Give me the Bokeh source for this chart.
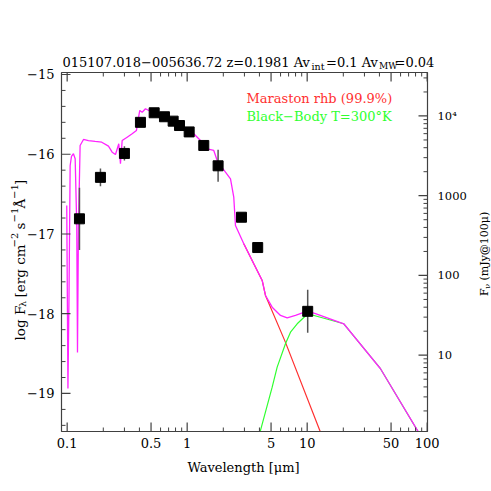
import numpy as np
from bokeh.plotting import figure
from bokeh.models import Range1d, Label, ColumnDataSource
from bokeh.core.properties import value
from bokeh.embed import file_html
from bokeh.resources import INLINE

# ---------------- data ----------------
# observed photometry: wavelength [um], log F_lambda, error (dex)
obs_lam = [0.1266, 0.1894, 0.300, 0.408, 0.531, 0.647, 0.764, 0.863, 1.039,
           1.375, 1.81, 2.835, 3.87, 10.1]
obs_logf = [-16.81, -16.29, -15.99, -15.60, -15.48, -15.53, -15.585, -15.64,
            -15.72, -15.89, -16.145, -16.79, -17.17, -17.97]
obs_err = [0.39, 0.11, 0.09, 0.0, 0.0, 0.0, 0.0, 0.0, 0.0, 0.0, 0.2, 0.0, 0.0, 0.27]

# total model (magenta)
tot_lam = [0.0992, 0.1015, 0.1035, 0.1059, 0.1086, 0.1128, 0.1166, 0.1202,
           0.1219, 0.1242, 0.1282, 0.1368, 0.1504, 0.1711, 0.1942, 0.2209,
           0.2371, 0.2527, 0.2692, 0.2780, 0.2873, 0.3162, 0.3479, 0.3779,
           0.3874, 0.4027, 0.4217, 0.4493, 0.4786, 0.5268, 0.5990, 0.6813,
           0.7729, 0.8794, 1.0, 1.135, 1.291, 1.468, 1.666, 1.778, 1.894,
           2.085, 2.296, 2.445, 2.526, 2.963, 3.589, 4.217, 4.493, 5.109,
           5.991, 6.813, 7.989, 10.0, 11.72, 20.18, 40.83, 79.89, 100.0]
tot_logf = [-16.643, -18.937, -17.834, -16.141, -16.028, -15.994, -16.057,
            -16.893, -18.486, -16.893, -15.890, -15.815, -15.828, -15.840,
            -15.849, -15.899, -15.974, -16.003, -15.869, -16.120, -15.828,
            -15.786, -15.744, -15.702, -15.598, -15.451, -15.473, -15.430,
            -15.451, -15.460, -15.493, -15.543, -15.577, -15.618, -15.702,
            -15.744, -15.828, -15.932, -15.953, -16.078, -16.141, -16.225,
            -16.308, -16.539, -16.893, -17.123, -17.374, -17.583, -17.771,
            -17.918, -18.022, -18.051, -18.022, -17.968, -18.000, -18.126,
            -18.690, -19.423, -19.670]

# stellar (Maraston) model, red, tail only (rest hidden under total)
star_lam = [2.963, 3.589, 4.217, 4.493, 6.556, 12.74, 15.85]
star_logf = [-17.123, -17.374, -17.583, -17.771, -18.350, -19.464, -19.840]

# black body, green
bb_lam = [3.802, 4.083, 5.109, 5.623, 6.592, 7.261, 8.255, 10.12, 20.18,
          40.83, 79.89, 100.0]
bb_logf = [-19.90, -19.464, -18.921, -18.670, -18.377, -18.231, -18.126,
           -18.000, -18.126, -18.690, -19.423, -19.670]

# axes: ticks and labels
x_major = [0.1, 0.5, 1, 5, 10, 50, 100]
x_labels = ["0.1", "0.5", "1", "5", "10", "50", "100"]
x_minor = [0.2, 0.3, 0.4, 0.6, 0.7, 0.8, 0.9, 2, 3, 4, 6, 7, 8, 9,
           20, 30, 40, 60, 70, 80, 90]
y_major = [-19, -18, -17, -16, -15]
y_labels = ["\u221219", "\u221218", "\u221217", "\u221216", "\u221215"]
y_minor = [-19.4, -19.2, -18.8, -18.6, -18.4, -18.2, -17.8, -17.6, -17.4,
           -17.2, -16.8, -16.6, -16.4, -16.2, -15.8, -15.6, -15.4, -15.2]
r_major = [10, 100, 1000, 10000]
r_labels = ["10", "100", "1000", "10\u2074"]
r_minor = [2, 3, 4, 5, 6, 7, 8, 9, 20, 30, 40, 50, 60, 70, 80, 90,
           200, 300, 400, 500, 600, 700, 800, 900,
           2000, 3000, 4000, 5000, 6000, 7000, 8000, 9000, 20000, 30000]
FNU_OFFSET = 19.52   # log(F_nu [mJy] at 100um) - log(F_lambda)

XLO, XHI = 0.0897, 100.6
YLO, YHI = -19.477, -14.975

# ---------------- layout (pixels) ----------------
W = H = 491
BOX_L, BOX_R, BOX_T, BOX_B = 61, 427, 72, 431
FONT = "DejaVu Serif"
AX = "#404040"

ppd = (BOX_R - BOX_L) / (np.log10(XHI) - np.log10(XLO))
x_start = 10 ** (np.log10(XLO) - BOX_L / ppd)
x_end = 10 ** (np.log10(XHI) + (W - BOX_R) / ppd)
ppu = (BOX_B - BOX_T) / (YHI - YLO)
y_start = YLO - (H - BOX_B) / ppu
y_end = YHI + BOX_T / ppu

p = figure(width=W, height=H, x_axis_type="log",
           x_range=Range1d(x_start, x_end), y_range=Range1d(y_start, y_end),
           output_backend="svg", toolbar_location=None,
           min_border=0, min_border_left=0, min_border_right=0,
           min_border_top=0, min_border_bottom=0)
p.axis.visible = False
p.xgrid.visible = False
p.ygrid.visible = False
p.outline_line_color = None
p.background_fill_color = "white"
p.border_fill_color = "white"

# ---------------- curves ----------------
p.line(star_lam, star_logf, line_color="#ff3030", line_width=1.2)
p.line(bb_lam, bb_logf, line_color="#30ff30", line_width=1.2)
p.line(tot_lam, tot_logf, line_color="#ff22ff", line_width=1.3)

src = ColumnDataSource(dict(
    x=obs_lam, y=obs_logf,
    lo=[v - e for v, e in zip(obs_logf, obs_err)],
    hi=[v + e for v, e in zip(obs_logf, obs_err)]))
p.segment(x0="x", x1="x", y0="lo", y1="hi", source=src,
          line_color="#555555", line_width=1.5)
p.scatter(x="x", y="y", source=src, marker="square", size=10,
          fill_color="black", line_color="black")

# white masks outside the plot box (clip the curves to the box)
p.quad(left=[x_start, XHI, XLO, XLO], right=[XLO, x_end, XHI, XHI],
       bottom=[y_start, y_start, y_start, YHI], top=[y_end, y_end, YLO, y_end],
       fill_color="white", line_color=None)

# box
p.quad(left=[XLO], right=[XHI], bottom=[YLO], top=[YHI],
       fill_color=None, line_color=AX, line_width=1.2)


# ticks (inward)
def ticks(xs, ys, ang, length, width):
    p.ray(x=xs, y=ys, length=length, length_units="screen", angle=ang,
          line_color=AX, line_width=width)


half = np.pi / 2
ticks(x_major, [YLO] * len(x_major), half, 9, 1.2)
ticks(x_minor, [YLO] * len(x_minor), half, 4, 1.0)
ticks(x_major, [YHI] * len(x_major), -half, 9, 1.2)
ticks(x_minor, [YHI] * len(x_minor), -half, 4, 1.0)
ticks([XLO] * len(y_major), y_major, 0.0, 9, 1.2)
ticks([XLO] * len(y_minor), y_minor, 0.0, 4, 1.0)
r_major_y = [np.log10(v) - FNU_OFFSET for v in r_major]
r_minor_y = [np.log10(v) - FNU_OFFSET for v in r_minor]
ticks([XHI] * len(r_major), r_major_y, np.pi, 9, 1.2)
ticks([XHI] * len(r_minor), r_minor_y, np.pi, 4, 1.0)

# tick labels
p.text(x=x_major, y=[YLO] * len(x_major), text=x_labels, y_offset=6,
       text_align="center", text_baseline="top",
       text_font=value(FONT), text_font_size=value("13px"), text_color="black")
p.text(x=[XLO] * len(y_major), y=y_major, text=y_labels, x_offset=-7,
       text_align="right", text_baseline="middle",
       text_font=value(FONT), text_font_size=value("13px"), text_color="black")
p.text(x=[XHI] * len(r_major), y=r_major_y, text=r_labels, x_offset=10,
       text_align="left", text_baseline="middle",
       text_font=value(FONT), text_font_size=value("11.5px"), text_color="black")


# ---------------- texts (page pixel positions) ----------------
def lab(text, px, py, size="13px", color="black", angle=0.0, align="left"):
    p.add_layout(Label(x=px, y=H - py, x_units="screen", y_units="screen",
                       text=text, text_font=FONT, text_font_size=size,
                       text_color=color, angle=angle, text_align=align,
                       text_baseline="alphabetic"))


# title
lab("015107.018\u2212005636.72 z=0.1981 Av", 62, 61.5)
lab("int", 311, 65.5, size="9.5px")
lab("=0.1 Av", 325.5, 61.5)
lab("MW", 378.5, 65.5, size="9px")
lab("=0.04", 394, 61.5)

# legend
lab("Maraston rhb (99.9%)", 246, 98.3, color="#ff3030")
lab("Black\u2212Body T=300\u00b0K", 246, 115.5, color="#30ff30")

# x axis title
lab("Wavelength [\u03bcm]", 243, 467, size="13px", align="center")

# left axis title (rotated, reading upwards)
lab("log F", 19, 340, size="13.5px", angle=half)
lab("\u03bb", 22, 306.5, size="9.5px", angle=half)
lab("[erg cm", 19, 297, size="13.5px", angle=half)
lab("\u22122", 14, 247, size="10px", angle=half)
lab("s", 19, 229, size="13.5px", angle=half)
lab("\u22121", 14, 222, size="10px", angle=half)
lab("\u00c5", 19, 208, size="13.5px", angle=half)
lab("\u22121", 14, 198.5, size="10px", angle=half)
lab("]", 19, 184.5, size="13.5px", angle=half)

# right axis title (rotated, reading upwards)
lab("F", 484, 295.5, size="11px", angle=half)
lab("\u03bd", 486.5, 288.3, size="8px", angle=half)
lab("(mJy@100\u03bc)", 484, 280, size="11px", angle=half)

open("out.html", "w").write(file_html(p, INLINE))
